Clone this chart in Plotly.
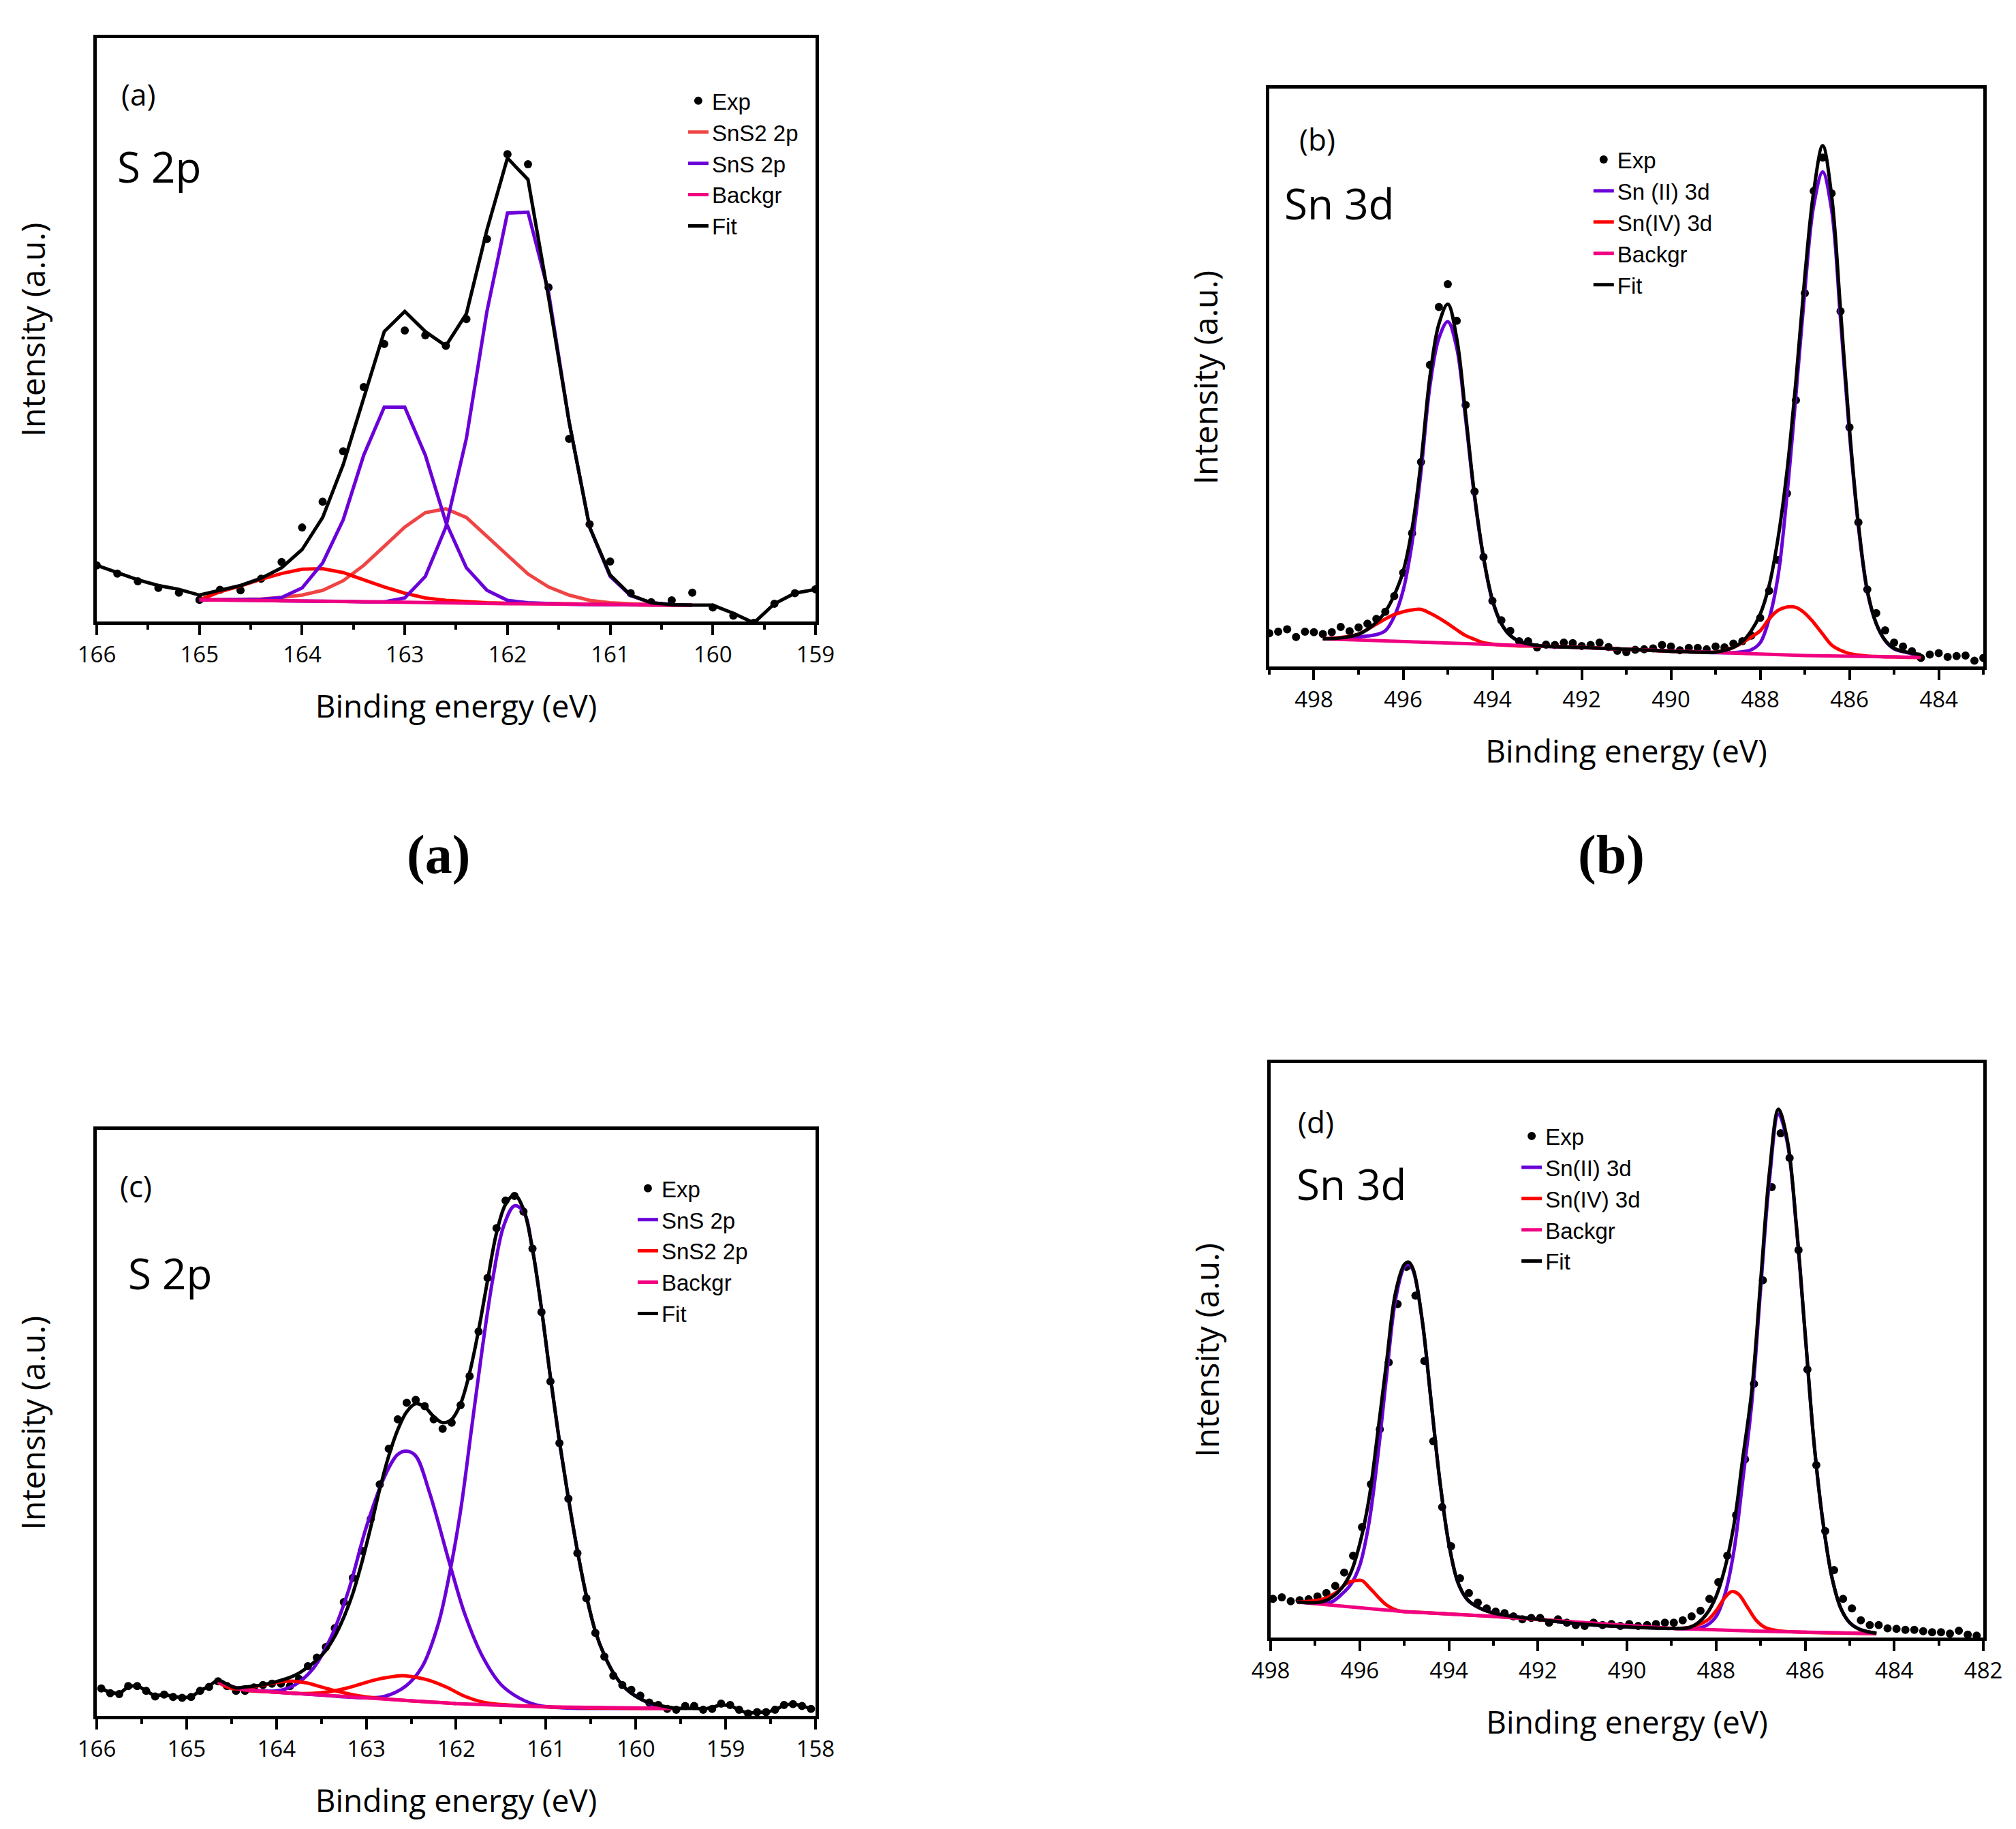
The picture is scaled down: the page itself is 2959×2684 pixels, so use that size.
import plotly.graph_objects as go

# colores de las curvas
NEGRO = '#000000'
VIOLETA = '#6A00D8'
ROJO = '#FF0000'
CORAL = '#F04444'
ROSA = '#F00080'

# ---------------- (a) S 2p ----------------
a_energia = [166.0, 165.8, 165.6, 165.4, 165.2, 165.0, 164.8, 164.6, 164.4, 164.2,
             164.0, 163.8, 163.6, 163.4, 163.2, 163.0, 162.8, 162.6, 162.4, 162.2,
             162.0, 161.8, 161.6, 161.4, 161.2, 161.0, 160.8, 160.6, 160.4, 160.2,
             160.0, 159.8, 159.6, 159.4, 159.2, 159.0]
a_exp = [117, 100, 84, 70, 60, 45, 66, 65, 89, 124,
         196, 250, 355, 489, 579, 607, 597, 575, 631, 798,
         975, 954, 697, 381, 203, 125, 59, 40, 44, 60,
         29, 12, -3, 37, 59, 67]
a_fit = [117, 102, 87, 75, 67, 55, 65, 75, 90, 112,
         150, 217, 327, 467, 605, 647, 605, 575, 642, 817,
         967, 922, 677, 417, 197, 97, 55, 39, 35, 34,
         34, 17, -3, 37, 59, 67]

a_comp_energia = [165.0, 164.8, 164.6, 164.4, 164.2, 164.0, 163.8, 163.6, 163.4, 163.2,
                  163.0, 162.8, 162.6, 162.4, 162.2, 162.0, 161.8, 161.6, 161.4, 161.2,
                  161.0, 160.8, 160.6, 160.4, 160.2]
a_sns2_1 = [45, 45, 46, 47, 50, 55, 65, 85, 117, 157,
            197, 227, 235, 217, 177, 137, 99, 72, 55, 44,
            39, 37, 35, 34, 34]
a_sns2_2 = [45, 62, 74, 88, 100, 109, 110, 102, 87, 72,
            59, 49, 44, 41, 39, 38, 38, 37, 37, 36,
            35, 35, 34, 34, 34]
a_sns_1 = [45, 45, 45, 46, 50, 70, 122, 212, 347, 447,
           447, 347, 207, 112, 65, 44, 39, 37, 36, 35,
           35, 34, 34, 34, 34]
a_sns_2 = [45, 45, 44, 44, 43, 43, 42, 42, 41, 41,
           49, 94, 197, 382, 647, 852, 854, 687, 417, 197,
           94, 54, 39, 35, 34]
a_fondo_energia = [165.0, 164.0, 163.0, 162.0, 161.0, 160.2]
a_fondo = [45, 43, 40, 37, 35, 34]

# ---------------- (b) Sn 3d ----------------
b_energia = [499.0, 498.8, 498.6, 498.4, 498.2, 498.0, 497.8, 497.6, 497.4, 497.2,
             497.0, 496.8, 496.6, 496.4, 496.2, 496.0, 495.8, 495.6, 495.4, 495.2,
             495.0, 494.8, 494.6, 494.4, 494.2, 494.0, 493.8, 493.6, 493.4, 493.2,
             493.0, 492.8, 492.6, 492.4, 492.2, 492.0, 491.8, 491.6, 491.4, 491.2,
             491.0, 490.8, 490.6, 490.4, 490.2, 490.0, 489.8, 489.6, 489.4, 489.2,
             489.0, 488.8, 488.6, 488.4, 488.2, 488.0, 487.8, 487.6, 487.4, 487.2,
             487.0, 486.8, 486.6, 486.4, 486.2, 486.0, 485.8, 485.6, 485.4, 485.2,
             485.0, 484.8, 484.6, 484.4, 484.2, 484.0, 483.8, 483.6, 483.4, 483.2,
             483.0]
b_exp = [70, 73, 78, 62, 73, 72, 68, 72, 83, 74,
         82, 90, 100, 115, 148, 197, 280, 430, 634, 756,
         804, 727, 550, 368, 230, 138, 97, 75, 53, 53,
         40, 46, 45, 50, 49, 43, 45, 50, 41, 33,
         30, 35, 36, 38, 45, 42, 34, 39, 39, 36,
         42, 40, 48, 53, 65, 102, 159, 224, 364, 560,
         785, 1000, 1070, 995, 747, 503, 303, 162, 112, 76,
         50, 42, 32, 18, 25, 28, 20, 22, 23, 12,
         18]

b_comp_energia = [497.8, 497.4, 497.0, 496.8, 496.6, 496.4, 496.2, 496.0, 495.8, 495.6,
                  495.4, 495.2, 495.0, 494.8, 494.6, 494.4, 494.2, 494.0, 493.8, 493.6,
                  493.4, 493.0, 492.0, 491.0, 490.0, 489.4, 489.0, 488.6, 488.4, 488.2,
                  488.0, 487.8, 487.6, 487.4, 487.2, 487.0, 486.8, 486.6, 486.4, 486.2,
                  486.0, 485.8, 485.6, 485.4, 485.2, 485.0, 484.6, 484.4]
b_fit = [58, 60, 68, 78, 93, 115, 150, 200, 290, 430,
         610, 720, 762, 690, 530, 360, 230, 140, 90, 65,
         53, 44, 40, 36, 32, 30, 30, 40, 52, 75,
         110, 170, 270, 410, 600, 820, 1000, 1095, 990, 750,
         500, 300, 160, 90, 55, 38, 28, 25]
b_sn2 = [58, 60, 62, 64, 67, 75, 105, 160, 260, 410,
         590, 690, 725, 670, 520, 355, 228, 138, 90, 65,
         53, 44, 40, 36, 32, 30, 29, 29, 31, 35,
         50, 100, 190, 360, 570, 790, 970, 1040, 960, 730,
         490, 295, 157, 90, 54, 37, 27, 22]
b_sn4 = [58, 61, 68, 78, 89, 100, 109, 115, 119, 120,
         112, 102, 90, 77, 65, 57, 50, 47, 45, 44,
         43, 43, 40, 36, 32, 30, 30, 40, 50, 62,
         75, 100, 118, 125, 124, 112, 92, 68, 45, 34,
         27, 24, 22, 21, 20, 20, 19, 19]
b_fondo_energia = [497.8, 495.0, 493.0, 491.0, 489.0, 487.0, 485.0, 484.4]
b_fondo = [58, 50, 43, 36, 29, 23, 20, 19]

# ---------------- (c) S 2p ----------------
c_energia = [165.95, 165.85, 165.75, 165.65, 165.55, 165.45, 165.35, 165.25, 165.15, 165.05,
             164.95, 164.85, 164.75, 164.65, 164.55, 164.45, 164.35, 164.25, 164.15, 164.05,
             163.95, 163.85, 163.75, 163.65, 163.55, 163.45, 163.35, 163.25, 163.15, 163.05,
             162.95, 162.85, 162.75, 162.65, 162.55, 162.45, 162.35, 162.25, 162.15, 162.05,
             161.95, 161.85, 161.75, 161.65, 161.55, 161.45, 161.35, 161.25, 161.15, 161.05,
             160.95, 160.85, 160.75, 160.65, 160.55, 160.45, 160.35, 160.25, 160.15, 160.05,
             159.95, 159.85, 159.75, 159.65, 159.55, 159.45, 159.35, 159.25, 159.15, 159.05,
             158.95, 158.85, 158.75, 158.65, 158.55, 158.45, 158.35, 158.25, 158.15, 158.05]
c_exp = [58, 48, 46, 63, 63, 53, 41, 45, 40, 38,
         40, 53, 61, 73, 63, 53, 53, 60, 65, 68,
         68, 63, 78, 105, 123, 145, 185, 240, 291, 348,
         415, 488, 563, 625, 660, 666, 653, 625, 605, 618,
         655, 716, 810, 923, 1028, 1086, 1096, 1063, 985, 851,
         705, 575, 458, 343, 248, 175, 125, 85, 65, 55,
         43, 28, 23, 15, 13, 21, 21, 13, 15, 26,
         23, 13, 5, 8, 8, 13, 23, 25, 21, 15]
c_fit = [58, 50, 48, 61, 63, 53, 43, 45, 41, 39,
         41, 53, 63, 75, 67, 59, 61, 63, 66, 70,
         75, 81, 90, 103, 118, 138, 168, 208, 258, 323,
         398, 478, 548, 603, 641, 658, 651, 631, 618, 625,
         658, 723, 813, 918, 1018, 1078, 1098, 1068, 983, 858,
         713, 578, 458, 348, 253, 178, 128, 91, 65, 48,
         36, 28, 23, 19, 16, 16, 16, 15, 18, 23,
         21, 13, 6, 8, 8, 13, 22, 25, 21, 15]

c_sns_1_energia = [164.65, 164.4, 164.0, 163.8, 163.6, 163.4, 163.2, 163.0, 162.8, 162.65,
                   162.55, 162.45, 162.3, 162.06, 161.9, 161.7, 161.5, 161.3, 161.1, 160.8,
                   160.0, 159.6]
c_sns_1 = [71, 58, 53, 65, 98, 163, 263, 398, 503, 551,
           558, 548, 473, 313, 213, 123, 66, 38, 23, 17,
           16, 16]
c_sns_2_energia = [164.65, 164.4, 164.0, 163.5, 163.0, 162.8, 162.56, 162.38, 162.2, 162.07,
                   161.95, 161.83, 161.71, 161.59, 161.47, 161.35, 161.25, 161.15, 161.05, 160.95,
                   160.85, 160.75, 160.65, 160.55, 160.45, 160.35, 160.25, 160.15, 160.05, 159.8,
                   159.6]
c_sns_2 = [71, 56, 50, 44, 38, 41, 63, 103, 193, 303,
           433, 603, 773, 923, 1033, 1075, 1063, 983, 858, 713,
           578, 458, 348, 253, 178, 128, 91, 65, 48, 23,
           16]
c_sns2_1_energia = [164.65, 164.5, 164.3, 164.1, 163.95, 163.8, 163.65, 163.5, 163.3, 163.1,
                    162.9, 162.6, 162.0]
c_sns2_1 = [71, 58, 60, 67, 72, 73, 69, 61, 51, 43,
            38, 33, 26]
c_sns2_2_energia = [164.65, 164.4, 164.0, 163.7, 163.5, 163.3, 163.1, 162.9, 162.7, 162.6,
                    162.5, 162.3, 162.1, 161.9, 161.7, 161.5, 161.2, 161.0, 160.5, 160.0,
                    159.6]
c_sns2_2 = [71, 56, 50, 47, 49, 55, 65, 76, 83, 85,
            83, 75, 60, 41, 29, 24, 21, 19, 17, 16,
            16]
c_fondo_energia = [164.65, 164.4, 164.0, 163.0, 162.0, 161.0, 160.0, 159.6]
c_fondo = [71, 56, 50, 38, 26, 19, 16, 16]

# ---------------- (d) Sn 3d ----------------
d_energia = [497.95, 497.75, 497.55, 497.35, 497.15, 496.95, 496.75, 496.55, 496.35, 496.15,
             495.95, 495.75, 495.55, 495.35, 495.15, 494.95, 494.75, 494.55, 494.35, 494.15,
             493.95, 493.75, 493.55, 493.35, 493.15, 492.95, 492.75, 492.55, 492.35, 492.15,
             491.95, 491.75, 491.55, 491.35, 491.15, 490.95, 490.75, 490.55, 490.35, 490.15,
             489.95, 489.75, 489.55, 489.35, 489.15, 488.95, 488.75, 488.55, 488.35, 488.15,
             487.95, 487.75, 487.55, 487.35, 487.15, 486.95, 486.75, 486.55, 486.35, 486.15,
             485.95, 485.75, 485.55, 485.35, 485.15, 484.95, 484.75, 484.55, 484.35, 484.15,
             483.95, 483.75, 483.55, 483.35, 483.15, 482.95, 482.75, 482.55, 482.35, 482.15]
d_exp = [81, 84, 76, 78, 80, 86, 93, 108, 136, 171,
         231, 321, 436, 576, 698, 776, 716, 579, 411, 273,
         191, 124, 93, 73, 61, 54, 51, 44, 38, 41,
         41, 31, 38, 31, 26, 24, 31, 26, 28, 24,
         28, 24, 26, 28, 31, 31, 36, 44, 56, 81,
         116, 171, 256, 373, 531, 748, 943, 1056, 1004, 811,
         561, 361, 223, 141, 81, 61, 36, 26, 26, 19,
         18, 16, 16, 13, 11, 11, 8, 14, 6, 4]

d_comp_energia = [497.4, 497.0, 496.8, 496.6, 496.4, 496.2, 496.0, 495.8, 495.6, 495.4,
                  495.2, 495.0, 494.9, 494.8, 494.6, 494.4, 494.2, 494.0, 493.8, 493.6,
                  493.4, 493.0, 492.0, 491.0, 490.0, 489.0, 488.6, 488.4, 488.2, 488.0,
                  487.8, 487.6, 487.4, 487.2, 487.0, 486.8, 486.6, 486.4, 486.2, 486.0,
                  485.8, 485.6, 485.4, 485.2, 485.0, 484.8, 484.6, 484.4]
d_fit = [74, 73, 76, 86, 104, 136, 196, 286, 426, 576,
         721, 781, 786, 771, 666, 496, 326, 196, 116, 81,
         66, 51, 38, 28, 22, 19, 21, 31, 51, 86,
         146, 236, 376, 516, 746, 976, 1106, 1041, 866, 636,
         406, 241, 126, 61, 31, 18, 12, 9]
d_sn2 = [74, 72, 71, 76, 91, 111, 151, 236, 376, 546,
         706, 776, 781, 768, 664, 496, 326, 196, 116, 81,
         66, 51, 38, 28, 22, 19, 18, 19, 26, 44,
         91, 181, 330, 490, 730, 960, 1096, 1036, 861, 634,
         406, 241, 126, 61, 31, 18, 12, 9]
d_sn4_energia = [497.4, 496.8, 496.5, 496.3, 496.1, 495.95, 495.8, 495.6, 495.4, 495.2,
                 495.0, 494.5, 494.0, 493.0, 491.0, 489.0, 488.6, 488.2, 488.0, 487.8,
                 487.65, 487.5, 487.3, 487.1, 486.9, 486.6, 486.0, 485.0, 484.4]
d_sn4 = [74, 81, 96, 113, 119, 119, 106, 86, 68, 58,
         54, 52, 49, 44, 31, 19, 21, 36, 56, 84,
         96, 91, 64, 36, 21, 14, 11, 9, 8]
d_fondo_energia = [497.4, 495.0, 493.0, 491.0, 489.0, 487.0, 485.0, 484.4]
d_fondo = [74, 54, 44, 31, 19, 13, 9, 8]


# definir funciones
def puntos(x, y, ejes, leyenda):
    return go.Scatter(x=x, y=y, mode='markers', name='Exp', xaxis=ejes[0], yaxis=ejes[1],
                      legend=leyenda, marker=dict(color=NEGRO, size=12))


def curva(x, y, ejes, leyenda, nombre, color, forma, mostrar=True, ancho=5):
    return go.Scatter(x=x, y=y, mode='lines', name=nombre, xaxis=ejes[0], yaxis=ejes[1],
                      legend=leyenda, legendgroup=leyenda + nombre, showlegend=mostrar,
                      line=dict(color=color, width=ancho, shape=forma))


def eje_x(dominio, rango, paso, ancla):
    return dict(domain=dominio, range=rango, anchor=ancla, dtick=paso, tick0=0,
                ticks='outside', ticklen=15, tickwidth=4, tickcolor=NEGRO,
                showline=True, linewidth=5, linecolor=NEGRO, mirror=True,
                showgrid=False, zeroline=False, automargin=False,
                tickfont=dict(family='Open Sans', size=33, color=NEGRO),
                title=dict(text='Binding energy (eV)', standoff=42,
                           font=dict(family='Open Sans', size=46, color=NEGRO)),
                minor=dict(dtick=paso / 2, tick0=0, ticks='outside', ticklen=7,
                           tickwidth=4, tickcolor=NEGRO, showgrid=False))


def eje_y(dominio, rango, ancla):
    return dict(domain=dominio, range=rango, anchor=ancla, showticklabels=False, ticks='',
                showline=True, linewidth=5, linecolor=NEGRO, mirror=True,
                showgrid=False, zeroline=False, automargin=False,
                title=dict(text='Intensity (a.u.)', standoff=57,
                           font=dict(family='Open Sans', size=48, color=NEGRO)))


def leyenda_conf(x, y):
    return dict(x=x, y=y, xanchor='left', yanchor='top', bgcolor='rgba(0,0,0,0)',
                font=dict(family='Liberation Sans', size=33, color=NEGRO),
                traceorder='normal', tracegroupgap=0)


def texto(t, x, y, tam, familia='Open Sans'):
    return dict(text=t, x=x, y=y, xref='paper', yref='paper', xanchor='left',
                yanchor='middle', showarrow=False,
                font=dict(family=familia, size=tam, color=NEGRO))


def rotulo(t, x, y):
    return dict(text='<b>' + t + '</b>', x=x, y=y, xref='paper', yref='paper',
                xanchor='center', yanchor='middle', showarrow=False,
                font=dict(family='Liberation Serif', size=80, color=NEGRO))


fig = go.Figure()

# (a)
ea = ('x', 'y')
fig.add_trace(puntos(a_energia, a_exp, ea, 'legend'))
fig.add_trace(curva(a_comp_energia, a_sns2_1, ea, 'legend', 'SnS2 2p', CORAL, 'linear'))
fig.add_trace(curva(a_comp_energia, a_sns2_2, ea, 'legend', 'SnS2 2p (2)', ROJO, 'linear', False))
fig.add_trace(curva(a_comp_energia, a_sns_1, ea, 'legend', 'SnS 2p', VIOLETA, 'linear'))
fig.add_trace(curva(a_comp_energia, a_sns_2, ea, 'legend', 'SnS 2p (2)', VIOLETA, 'linear', False))
fig.add_trace(curva(a_fondo_energia, a_fondo, ea, 'legend', 'Backgr', ROSA, 'linear'))
fig.add_trace(curva(a_energia, a_fit, ea, 'legend', 'Fit', NEGRO, 'linear'))

# (b)
eb = ('x2', 'y2')
fig.add_trace(puntos(b_energia, b_exp, eb, 'legend2'))
fig.add_trace(curva(b_comp_energia, b_sn2, eb, 'legend2', 'Sn (II) 3d', VIOLETA, 'spline'))
fig.add_trace(curva(b_comp_energia, b_sn4, eb, 'legend2', 'Sn(IV) 3d', ROJO, 'spline'))
fig.add_trace(curva(b_fondo_energia, b_fondo, eb, 'legend2', 'Backgr', ROSA, 'linear'))
fig.add_trace(curva(b_comp_energia, b_fit, eb, 'legend2', 'Fit', NEGRO, 'spline'))

# (c)
ec = ('x3', 'y3')
fig.add_trace(puntos(c_energia, c_exp, ec, 'legend3'))
fig.add_trace(curva(c_sns_1_energia, c_sns_1, ec, 'legend3', 'SnS 2p', VIOLETA, 'spline'))
fig.add_trace(curva(c_sns_2_energia, c_sns_2, ec, 'legend3', 'SnS 2p (2)', VIOLETA, 'spline', False))
fig.add_trace(curva(c_sns2_1_energia, c_sns2_1, ec, 'legend3', 'SnS2 2p', ROJO, 'spline'))
fig.add_trace(curva(c_sns2_2_energia, c_sns2_2, ec, 'legend3', 'SnS2 2p (2)', ROJO, 'spline', False))
fig.add_trace(curva(c_fondo_energia, c_fondo, ec, 'legend3', 'Backgr', ROSA, 'linear'))
fig.add_trace(curva(c_energia, c_fit, ec, 'legend3', 'Fit', NEGRO, 'spline'))

# (d)
ed = ('x4', 'y4')
fig.add_trace(puntos(d_energia, d_exp, ed, 'legend4'))
fig.add_trace(curva(d_comp_energia, d_sn2, ed, 'legend4', 'Sn(II) 3d', VIOLETA, 'spline'))
fig.add_trace(curva(d_sn4_energia, d_sn4, ed, 'legend4', 'Sn(IV) 3d', ROJO, 'spline'))
fig.add_trace(curva(d_fondo_energia, d_fondo, ed, 'legend4', 'Backgr', ROSA, 'linear'))
fig.add_trace(curva(d_comp_energia, d_fit, ed, 'legend4', 'Fit', NEGRO, 'spline'))

fig.update_layout(
    width=2959, height=2684,
    margin=dict(l=0, r=0, t=0, b=0),
    paper_bgcolor='white', plot_bgcolor='white',
    xaxis=eje_x([0.0453, 0.4018], [166, 159], 1, 'y'),
    yaxis=eje_y([0.6632, 0.9821], [0, 1217], 'x'),
    xaxis2=eje_x([0.6269, 0.9811], [499, 483], 2, 'y2'),
    yaxis2=eje_y([0.6386, 0.9545], [0, 1215], 'x2'),
    xaxis3=eje_x([0.0453, 0.4018], [166, 158], 1, 'y3'),
    yaxis3=eje_y([0.0648, 0.3852], [0, 1235], 'x3'),
    xaxis4=eje_x([0.6276, 0.9811], [498, 482], 2, 'y4'),
    yaxis4=eje_y([0.1077, 0.4218], [0, 1203], 'x4'),
    legend=leyenda_conf(0.3369, 0.9583),
    legend2=leyenda_conf(0.7860, 0.9262),
    legend3=leyenda_conf(0.3119, 0.3637),
    legend4=leyenda_conf(0.7503, 0.3923),
    annotations=[
        texto('(a)', 0.0567, 0.9514, 44),
        texto('S 2p', 0.0547, 0.9121, 62),
        texto('(b)', 0.6411, 0.9270, 44),
        texto('Sn 3d', 0.6336, 0.8920, 62),
        texto('(c)', 0.0561, 0.3547, 44),
        texto('S 2p', 0.0601, 0.3070, 62),
        texto('(d)', 0.6404, 0.3897, 44),
        texto('Sn 3d', 0.6397, 0.3558, 62),
        rotulo('(a)', 0.2146, 0.5354),
        rotulo('(b)', 0.7967, 0.5354),
    ],
)

fig.write_html("out.html")
